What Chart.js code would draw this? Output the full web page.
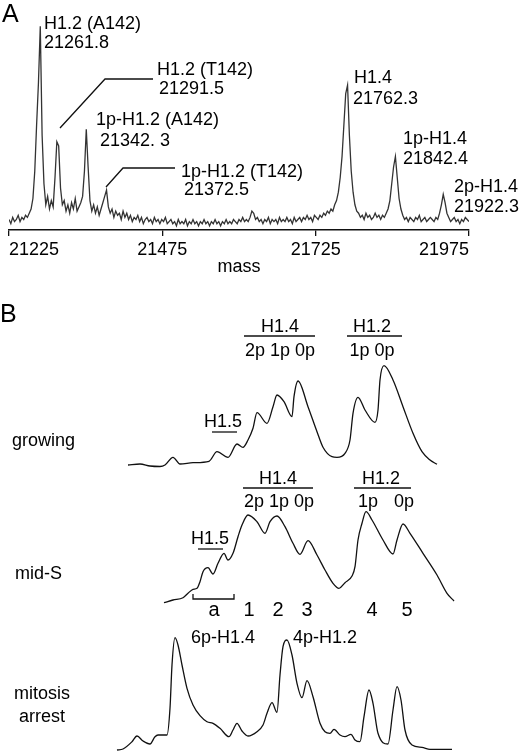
<!DOCTYPE html>
<html>
<head>
<meta charset="utf-8">
<script src="https://cdn.jsdelivr.net/npm/chart.js@4.4.1/dist/chart.umd.min.js"></script>
<style>
  html, body { margin: 0; padding: 0; background: #fff; }
  #wrap { position: relative; width: 520px; height: 752px; overflow: hidden; }
  canvas { position: absolute; left: 0; top: 0; }
</style>
</head>
<body>
<div id="wrap">
  <canvas id="traces" width="520" height="752"></canvas>
  <canvas id="spectrum" width="520" height="290"></canvas>
</div>
<script>
const FONT = '"Liberation Sans", Arial, sans-serif';
Chart.defaults.font.family = FONT;
Chart.defaults.color = "#000";

// ---- panel A: mass spectrum (sampled every 3 Da from 21225) ----
const massStart = 21225;
const massStep = 3;
const massTicks = [21225, 21475, 21725, 21975];
const spectrumIntensity = [
  5, 3, 6, 4, 5, 7, 4, 6, 5, 7,
  6, 8, 10, 15, 28, 50, 70, 97, 45, 22,
  12, 16, 10, 14, 11, 25, 42, 40, 20, 12,
  14, 9, 12, 8, 13, 10, 15, 9, 11, 13,
  16, 28, 48, 30, 14, 9, 12, 8, 11, 7,
  10, 13, 16, 19, 11, 8, 10, 6, 9, 7,
  8, 5, 9, 6, 8, 5, 7, 4, 6, 5,
  7, 4, 6, 3, 5, 6, 4, 5, 3, 6,
  4, 5, 3, 5, 4, 6, 3, 4, 5, 3,
  4, 2, 5, 3, 4, 3, 5, 2, 4, 3,
  5, 3, 4, 2, 4, 3, 5, 3, 4, 2,
  4, 3, 5, 3, 4, 2, 4, 3, 5, 3,
  4, 3, 5, 4, 3, 5, 4, 6, 4, 5,
  4, 6, 9, 8, 5, 6, 4, 5, 3, 5,
  4, 6, 3, 5, 4, 5, 3, 6, 4, 5,
  4, 6, 4, 5, 3, 6, 4, 5, 6, 4,
  6, 5, 7, 5, 6, 4, 7, 6, 5, 7,
  6, 8, 7, 9, 8, 10, 9, 12, 14, 18,
  25, 35, 50, 65, 69, 45, 28, 18, 12, 9,
  8, 6, 7, 5, 8, 6, 7, 5, 6, 8,
  6, 7, 5, 7, 6, 8, 10, 14, 22, 30,
  35, 25, 15, 10, 7, 5, 6, 4, 6, 5,
  4, 6, 5, 7, 4, 5, 6, 4, 5, 6,
  5, 4, 6, 5, 8, 12, 17, 13, 8, 6,
  4, 5, 6, 4, 5, 3, 5, 4, 6, 5,
  4,
];
const peakNames = ["H1.2 (A142)", "H1.2 (T142)", "1p-H1.2 (A142)", "1p-H1.2 (T142)", "H1.4", "1p-H1.4", "2p-H1.4"];
const peakMasses = ["21261.8", "21291.5", "21342. 3", "21372.5", "21762.3", "21842.4", "21922.3"];

// ---- panel B: RP-HPLC traces (elution time, absorbance) ----
const conditionNames = ["growing", "mid-S", "mitosis", "arrest"];
const growingTime = [2.8, 4.0, 5.0, 6.0, 6.5, 7.3, 8.0, 9.3, 10.9, 11.7, 12.8, 13.7, 14.3, 14.8, 15.3, 15.7, 16.7, 17.3, 17.7, 18.4, 19.2, 19.4, 19.8, 20.8, 21.7, 22.3, 23.2, 23.7, 24.5, 25.0, 25.3, 25.8, 26.5, 27.5, 27.8, 28.0, 28.4, 29.3, 30.3, 31.3, 32.2, 33.0, 33.7];
const growingAbs = [-1, 0, -2, -2.5, -1, 6.7, 0, 1.3, 2.7, 12.3, 6.7, 20, 16.7, 24, 35.7, 51.3, 40.7, 57.3, 69, 62.3, 47.3, 67.3, 83, 57.3, 32.3, 16.7, 7.3, 6.7, 10.7, 24, 50.7, 66.7, 54, 41.7, 54, 84, 98.3, 84, 57.3, 30.7, 12.3, 4, -0.3];
const midSTime = [6.4, 7.3, 8.3, 8.8, 9.3, 9.7, 10.0, 10.3, 10.8, 11.3, 11.8, 12.4, 12.8, 13.3, 13.8, 14.2, 14.8, 15.7, 16.5, 17.0, 17.7, 18.5, 19.3, 20.0, 20.8, 21.7, 22.5, 23.3, 23.9, 24.5, 25.2, 25.5, 25.8, 26.2, 26.6, 27.2, 28.3, 29.3, 29.7, 30.3, 31.0, 32.3, 33.7, 34.7, 35.4];
const midSAbs = [-0.7, 2, 4.3, 8.7, 12.7, 13.7, 20.3, 30.3, 34.3, 28, 38.7, 48.7, 42, 48.7, 65.3, 77, 87, 80.3, 68.7, 80.3, 86, 75.3, 58.7, 47.7, 61.3, 47, 32, 18.7, 13.7, 19.3, 26, 35.3, 62, 78.7, 90.3, 82, 62, 48, 62, 78, 68.7, 48.7, 27, 8.7, 1];
const mitosisTime = [1.7, 2.3, 3.2, 3.7, 4.3, 5.0, 5.5, 5.8, 6.7, 7.0, 7.2, 7.5, 7.8, 8.2, 8.7, 9.3, 10.0, 10.7, 11.3, 12.0, 12.9, 13.3, 13.7, 14.2, 14.8, 15.7, 16.3, 16.7, 17.2, 17.7, 18.0, 18.3, 18.7, 19.2, 19.7, 20.2, 20.7, 21.3, 22.0, 22.5, 23.0, 23.4, 24.0, 24.5, 25.1, 25.5, 26.0, 26.4, 26.9, 27.3, 27.8, 28.8, 29.3, 29.7, 30.1, 30.5, 31.2, 32.2, 33.0, 35.2];
const mitosisAbs = [0, 1, 8.3, 14, 9, 6, 13.3, 15, 15, 41.7, 85, 112.3, 105, 85, 61.7, 45, 34.3, 28.3, 26.7, 21.7, 13.3, 20, 26.7, 19, 14, 18.3, 25, 36.7, 47.3, 37.7, 75, 103.3, 110, 95, 66.7, 52.3, 69.3, 53.3, 26.7, 18.3, 16.7, 20.7, 15, 13.3, 15.7, 10, 8.3, 33.3, 60, 46.7, 16.7, 6, 40, 63.3, 50, 20, 5, 2.7, 0.7, 0.7];
const fractionLabels = ["a", "1", "2", "3", "4", "5"];
const peakGroups = ["H1.4", "H1.2", "H1.5"];
const phosphoForms = ["2p 1p 0p", "1p 0p", "1p", "0p"];
const mitoticForms = ["6p-H1.4", "4p-H1.2"];

function text(ctx, s, x, y, align) {
  ctx.textAlign = align || "left";
  ctx.fillText(s, x, y);
}
function line(ctx, pts) {
  ctx.beginPath();
  ctx.moveTo(pts[0][0], pts[0][1]);
  pts.slice(1).forEach((p) => ctx.lineTo(p[0], p[1]));
  ctx.stroke();
}

const spectrumLabels = {
  id: "spectrumLabels",
  afterDraw(chart) {
    const ctx = chart.ctx;
    ctx.save();
    ctx.fillStyle = "#000";
    ctx.strokeStyle = "#111";
    ctx.lineWidth = 1.3;
    ctx.textBaseline = "alphabetic";
    ctx.font = `25px ${FONT}`;
    text(ctx, "A", 2, 22);
    ctx.font = `18px ${FONT}`;
    // [left, name baseline, mass left, mass baseline]
    const spots = [
      [44, 29, 44, 48],
      [157, 75, 159, 94],
      [96, 125, 100, 146],
      [181, 177, 184, 195],
      [354, 83, 353, 104],
      [403, 144, 403, 164],
      [454, 192, 454, 212],
    ];
    spots.forEach((s, i) => {
      text(ctx, peakNames[i], s[0], s[1]);
      text(ctx, peakMasses[i], s[2], s[3]);
    });
    line(ctx, [[60, 128], [105, 79], [153, 79]]);
    line(ctx, [[106, 187], [123, 168], [175, 168]]);
    ctx.restore();
  },
};

new Chart(document.getElementById("spectrum"), {
  type: "line",
  data: {
    datasets: [{
      data: spectrumIntensity.map((v, i) => ({ x: massStart + i * massStep, y: v })),
      borderColor: "#333",
      borderWidth: 1.3,
      pointRadius: 0,
      tension: 0,
    }],
  },
  options: {
    responsive: false,
    animation: false,
    layout: { padding: { left: 9, right: 51, top: 20, bottom: 0 } },
    plugins: { legend: { display: false }, tooltip: { enabled: false } },
    scales: {
      x: {
        type: "linear",
        min: massTicks[0],
        max: massTicks[massTicks.length - 1],
        afterBuildTicks: (scale) => {
          scale.ticks = massTicks.map((v) => ({ value: v }));
        },
        ticks: {
          align: "inner",
          autoSkip: false,
          maxRotation: 0,
          padding: 3,
          color: "#000",
          font: { size: 18 },
          callback: (v) => String(v),
        },
        grid: { drawOnChartArea: false, tickLength: 6, color: "#111", lineWidth: 1.3 },
        border: { color: "#111", width: 1.5 },
        title: { display: true, text: "mass", color: "#000", font: { size: 18 }, padding: { top: 0, bottom: 12 } },
        afterFit: (scale) => {
          scale.height = 60;
          scale.paddingLeft = 0;
          scale.paddingRight = 0;
        },
      },
      y: { display: false, min: 0, max: 100 },
    },
  },
  plugins: [spectrumLabels],
});

// ---- panel B ----
const traceLabels = {
  id: "traceLabels",
  afterDraw(chart) {
    const ctx = chart.ctx;
    ctx.save();
    ctx.fillStyle = "#000";
    ctx.strokeStyle = "#111";
    ctx.lineWidth = 1.3;
    ctx.textBaseline = "alphabetic";
    ctx.font = `25px ${FONT}`;
    text(ctx, "B", 0, 322);
    ctx.font = `18px ${FONT}`;

    // growing
    text(ctx, peakGroups[0], 280, 332, "center");
    line(ctx, [[244, 336], [315, 336]]);
    text(ctx, phosphoForms[0], 280, 356, "center");
    text(ctx, peakGroups[1], 372, 332, "center");
    line(ctx, [[347, 336], [402, 336]]);
    text(ctx, phosphoForms[1], 372, 356, "center");
    text(ctx, peakGroups[2], 223, 427, "center");
    line(ctx, [[212, 432], [237, 432]]);
    text(ctx, conditionNames[0], 12, 446);

    // mid-S
    text(ctx, peakGroups[0], 278, 484, "center");
    line(ctx, [[243, 488], [313, 488]]);
    text(ctx, phosphoForms[0], 279, 507, "center");
    text(ctx, peakGroups[1], 381, 484, "center");
    line(ctx, [[354, 488], [411, 488]]);
    text(ctx, phosphoForms[2], 358, 507);
    text(ctx, phosphoForms[3], 394, 507);
    text(ctx, peakGroups[2], 210, 544, "center");
    line(ctx, [[198, 549], [223, 549]]);
    text(ctx, conditionNames[1], 15, 579);
    line(ctx, [[193, 594], [193, 599], [234, 599], [234, 594]]);
    ctx.font = `20px ${FONT}`;
    [214, 249, 278, 307, 372, 407].forEach((x, i) => text(ctx, fractionLabels[i], x, 616, "center"));

    // mitosis arrest
    ctx.font = `18px ${FONT}`;
    text(ctx, mitoticForms[0], 191, 643);
    text(ctx, mitoticForms[1], 293, 643);
    text(ctx, conditionNames[2], 42, 699, "center");
    text(ctx, conditionNames[3], 42, 722, "center");
    ctx.restore();
  },
};

// each trace gets its own hidden y axis; baseline given in canvas px, 1 unit = 1 px
function stackAxis(baselinePx) {
  return { display: false, min: baselinePx - 752, max: baselinePx };
}
function traceSet(times, abs, axis) {
  return {
    data: times.map((t, i) => ({ x: t, y: abs[i] })),
    yAxisID: axis,
    borderColor: "#111",
    borderWidth: 1.3,
    pointRadius: 0,
    cubicInterpolationMode: "monotone",
  };
}

new Chart(document.getElementById("traces"), {
  type: "line",
  data: {
    datasets: [
      traceSet(growingTime, growingAbs, "yGrow"),
      traceSet(midSTime, midSAbs, "yMidS"),
      traceSet(mitosisTime, mitosisAbs, "yMit"),
    ],
  },
  options: {
    responsive: false,
    animation: false,
    layout: { padding: 0 },
    plugins: { legend: { display: false }, tooltip: { enabled: false } },
    scales: {
      x: { type: "linear", display: false, min: -10, max: 42 },
      yGrow: stackAxis(464),
      yMidS: stackAxis(602),
      yMit: stackAxis(750),
    },
  },
  plugins: [traceLabels],
});
</script>
</body>
</html>
